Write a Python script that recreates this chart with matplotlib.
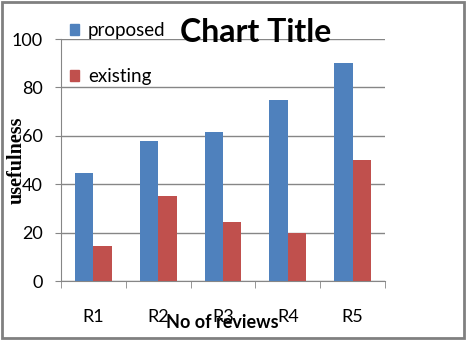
import matplotlib
matplotlib.use("Agg")
import matplotlib.pyplot as plt
import numpy as np
from matplotlib.patches import Rectangle, Patch

categories = ["R1", "R2", "R3", "R4", "R5"]
proposed = [44.5, 58, 61.5, 75, 90]
existing = [14.5, 35, 24.5, 20, 50]
yticks = [0, 20, 40, 60, 80, 100]

BLUE = "#4F81BD"
RED = "#C0504D"
GRID = "#868686"
SANS = ["Lato", "DejaVu Sans"]

W, H = 466, 340
fig = plt.figure(figsize=(W / 100, H / 100), dpi=100)
ax = fig.add_axes([61 / W, 1 - 281 / H, (385 - 61) / W, (281 - 39) / H])

x = np.arange(len(categories))
bw = 0.285
ax.bar(x - bw / 2, proposed, bw, color=BLUE, label="proposed", zorder=3)
ax.bar(x + bw / 2, existing, bw, color=RED, label="existing", zorder=3)

ax.set_xlim(-0.5, len(categories) - 0.5)
ax.set_ylim(0, 100)
ax.set_yticks(yticks)
ax.set_xticks(x)
ax.set_xticklabels(categories)
ax.set_xticks(np.arange(-0.5, len(categories), 1), minor=True)
ax.tick_params(axis="x", which="major", length=0, pad=20)
ax.tick_params(axis="x", which="minor", length=5, color=GRID, direction="out")
ax.tick_params(axis="y", length=4, color=GRID, pad=9)
for lab in ax.get_xticklabels() + ax.get_yticklabels():
    lab.set_fontfamily(SANS)
    lab.set_fontsize(13)
    lab.set_color("#000000")

ax.yaxis.grid(True, color=GRID, linewidth=1)
ax.set_axisbelow(True)
for s in ["top", "right"]:
    ax.spines[s].set_visible(False)
ax.spines["left"].set_color(GRID)
ax.spines["bottom"].set_color(GRID)
ax.set_facecolor("white")

fig.text(256 / W, 1 - 33 / H, "Chart Title", ha="center", va="center",
         fontfamily=SANS, fontweight="bold", fontsize=23)
fig.text(222 / W, 1 - 322 / H, "No of reviews", ha="center", va="center",
         fontfamily=SANS, fontweight="bold", fontsize=13)
fig.text(17 / W, 1 - 160 / H, "usefulness", ha="center", va="center",
         rotation=90, fontfamily=["Liberation Serif"], fontweight="bold",
         fontsize=14.5)

handles = [Patch(color=BLUE), Patch(color=RED)]
leg = fig.legend(handles, ["proposed", "existing"], loc="upper left",
                 bbox_to_anchor=(70 / W, 1 - 22 / H), frameon=False,
                 prop={"family": SANS, "size": 13.5},
                 handlelength=0.5, handleheight=0.5, handletextpad=0.45,
                 labelspacing=1.55, borderpad=0, borderaxespad=0)

fig.patches.append(Rectangle((2 / W, 2 / H), 1 - 4 / W, 1 - 4 / H,
                             transform=fig.transFigure, fill=False,
                             edgecolor="#808080", linewidth=2))

fig.savefig("out.png", dpi=100)
